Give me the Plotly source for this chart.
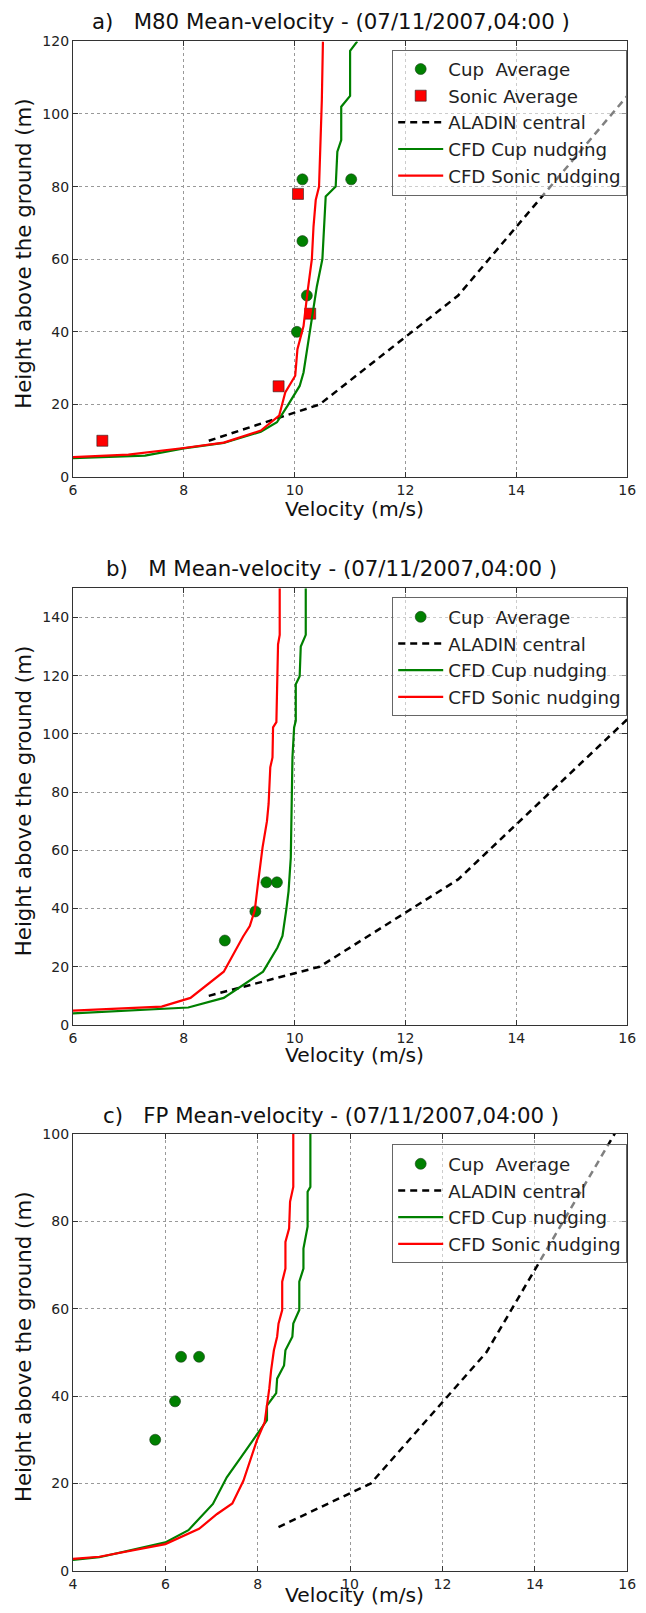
import plotly.graph_objects as go

# ---------------- data ----------------
aladin_x = [8.45, 10.0, 10.45, 12.95, 16.0, 17.0]
aladin_y = [10, 17.7, 20, 50, 105, 123]

# panel a (M80)
cup_a_x = [10.04, 10.22, 10.14, 10.14, 11.02]
cup_a_y = [40, 50, 65, 82, 82]
sonic_a_x = [6.53, 9.71, 10.28, 10.06]
sonic_a_y = [10, 25, 45, 78]
cfdcup_a_x = [6.0, 7.3, 8.0, 8.72, 9.39, 9.68, 9.87, 10.09, 10.16, 10.23, 10.31, 10.40,
              10.50, 10.56, 10.74, 10.77, 10.84, 10.84, 11.0, 11.0, 11.13]
cfdcup_a_y = [5.2, 5.9, 7.9, 9.4, 12.5, 15.1, 19.6, 25.1, 28.8, 36.1, 44.3, 52.5,
              60, 77.3, 80, 89.6, 92.8, 102, 105, 117.4, 120]
cfdson_a_x = [6.0, 7.0, 8.0, 8.72, 9.39, 9.72, 9.83, 10.01, 10.05, 10.16, 10.23, 10.31,
              10.34, 10.38, 10.44, 10.47, 10.49, 10.51]
cfdson_a_y = [5.5, 6.2, 8.0, 9.5, 12.8, 16.9, 23.3, 27.9, 35.2, 41.6, 50.7, 60,
              69, 76.3, 80, 92.8, 103.7, 120]

# panel b (M)
cup_b_x = [8.74, 9.29, 9.49, 9.68]
cup_b_y = [29, 39, 49, 49]
cfdcup_b_x = [6.0, 8.08, 8.72, 9.43, 9.69, 9.78, 9.85, 9.89, 9.93, 9.94, 9.94, 9.96,
              9.99, 10.02, 10.02, 10.09, 10.11, 10.20, 10.20]
cfdcup_b_y = [4.0, 6.0, 9.3, 18.3, 26.6, 30.6, 39.8, 46, 57.5, 70, 80, 91.9,
              102.2, 104.5, 117, 119.8, 130, 134, 150]
cfdson_b_x = [6.0, 7.6, 8.12, 8.72, 9.07, 9.19, 9.28, 9.31, 9.34, 9.42, 9.50, 9.53,
              9.56, 9.60, 9.61, 9.67, 9.69, 9.70, 9.73, 9.73]
cfdson_b_y = [4.9, 6.3, 9.3, 18.3, 30.4, 34, 39.4, 44.9, 48.9, 60.9, 70, 76,
              88.5, 91.9, 102.2, 104, 119.2, 130.7, 134, 150]

# panel c (FP)
cup_c_x = [5.78, 6.21, 6.34, 6.73]
cup_c_y = [30, 38.8, 49, 49]
cfdcup_c_x = [4.0, 4.57, 6.0, 6.5, 7.03, 7.33, 7.64, 7.99, 8.2, 8.2, 8.4, 8.42, 8.57,
              8.6, 8.75, 8.77, 8.9, 8.9, 8.99, 8.99, 9.08, 9.08, 9.14, 9.14]
cfdcup_c_y = [2.5, 3.1, 6.5, 9.3, 15.3, 21.4, 26, 31.2, 34.5, 37.8, 40.7, 44, 47,
              50.5, 53.6, 56.6, 59.7, 66.2, 69.2, 73.8, 78.8, 86.8, 87.9, 100]
cfdson_c_x = [4.0, 4.57, 6.0, 6.73, 7.12, 7.45, 7.69, 7.98, 8.15, 8.2, 8.25, 8.29,
              8.35, 8.42, 8.45, 8.53, 8.53, 8.6, 8.6, 8.68, 8.7, 8.77, 8.77]
cfdson_c_y = [2.7, 3.2, 6.1, 9.6, 13, 15.4, 20.6, 29.8, 34, 37.5, 41.7, 45.9,
              50.5, 53.6, 56.6, 59.7, 66.2, 69.2, 75.3, 78.4, 84.5, 87.9, 100]

titles = ["a)   M80 Mean-velocity - (07/11/2007,04:00 )",
          "b)   M Mean-velocity - (07/11/2007,04:00 )",
          "c)   FP Mean-velocity - (07/11/2007,04:00 )"]
xlabel = "Velocity (m/s)"
ylabel = "Height above the ground (m)"
x_ranges = [[6, 16], [6, 16], [4, 16]]
y_ranges = [[0, 120], [0, 150], [0, 100]]

# ---------------- layout geometry ----------------
W, H = 646, 1613

# the photographed page is slightly squeezed vertically; map target pixel -> figure pixel
def PY(t):
    return (t - 7.75) / 0.989

xl, xr = 70.4, 636
panels_px = [(PY(41.1), PY(476.3)), (PY(587.4), PY(1023.6)), (PY(1132.6), PY(1568.8))]
title_y = [PY(21.5), PY(568), PY(1114)]
xlab_y = [PY(508), PY(1054), 1603]
ylab_y = [PY(253.7), PY(800.5), PY(1345.7)]
legend_top = [PY(49.4), PY(596.6), PY(1143)]
legend_right = 636

GREEN = "#008000"
RED = "#ff0000"
FONT = "DejaVu Sans"

fig = go.Figure()

def add_panel(i, cup, sonic, cfdcup, cfdson):
    xa = "x" if i == 0 else f"x{i+1}"
    ya = "y" if i == 0 else f"y{i+1}"
    lg = "legend" if i == 0 else f"legend{i+1}"
    fig.add_trace(go.Scatter(x=cup[0], y=cup[1], mode="markers", name="Cup  Average",
                             marker=dict(symbol="circle", size=11, color=GREEN,
                                         line=dict(color="#1a3d1a", width=0.6)),
                             xaxis=xa, yaxis=ya, legend=lg))
    if sonic is not None:
        fig.add_trace(go.Scatter(x=sonic[0], y=sonic[1], mode="markers", name="Sonic Average",
                                 marker=dict(symbol="square", size=11, color=RED,
                                             line=dict(color="#222", width=0.6)),
                                 xaxis=xa, yaxis=ya, legend=lg))
    fig.add_trace(go.Scatter(x=aladin_x, y=aladin_y, mode="lines", name="ALADIN central",
                             line=dict(color="black", width=2.5, dash="7px,5px"),
                             xaxis=xa, yaxis=ya, legend=lg))
    fig.add_trace(go.Scatter(x=cfdcup[0], y=cfdcup[1], mode="lines", name="CFD Cup nudging",
                             line=dict(color=GREEN, width=2.2),
                             xaxis=xa, yaxis=ya, legend=lg))
    fig.add_trace(go.Scatter(x=cfdson[0], y=cfdson[1], mode="lines", name="CFD Sonic nudging",
                             line=dict(color=RED, width=2.2),
                             xaxis=xa, yaxis=ya, legend=lg))

add_panel(0, (cup_a_x, cup_a_y), (sonic_a_x, sonic_a_y), (cfdcup_a_x, cfdcup_a_y), (cfdson_a_x, cfdson_a_y))
add_panel(1, (cup_b_x, cup_b_y), None, (cfdcup_b_x, cfdcup_b_y), (cfdson_b_x, cfdson_b_y))
add_panel(2, (cup_c_x, cup_c_y), None, (cfdcup_c_x, cfdcup_c_y), (cfdson_c_x, cfdson_c_y))

layout = dict(width=W, height=H, margin=dict(l=0, r=0, t=0, b=0),
              paper_bgcolor="white", plot_bgcolor="white",
              font=dict(family=FONT, color="#222"), annotations=[])

for i in range(3):
    top, bot = panels_px[i]
    sfx = "" if i == 0 else str(i + 1)
    axis_common = dict(showline=True, linecolor="#333", linewidth=1.2, mirror="allticks",
                       ticks="inside", ticklen=5, tickcolor="#333",
                       showgrid=True, gridcolor="#999", griddash="dot", gridwidth=1,
                       zeroline=False, tickfont=dict(size=14, family=FONT, color="#222"))
    layout["xaxis" + sfx] = dict(axis_common, domain=[xl / W, xr / W], range=x_ranges[i],
                                 dtick=2, anchor="y" + sfx)
    layout["yaxis" + sfx] = dict(axis_common, domain=[1 - bot / H, 1 - top / H], range=y_ranges[i],
                                 dtick=20, anchor="x" + sfx)
    layout["legend" + sfx] = dict(x=legend_right / W, xanchor="right", y=1 - legend_top[i] / H,
                                  yanchor="top",
                                  bgcolor="rgba(255,255,255,0.5)", bordercolor="#666", borderwidth=1,
                                  itemwidth=45,
                                  font=dict(size=18.2, family=FONT, color="#222"))
    layout["annotations"] += [
        dict(text=titles[i], x=334 / W, y=1 - title_y[i] / H, xref="paper", yref="paper",
             showarrow=False, xanchor="center", yanchor="middle",
             font=dict(size=21.3, family=FONT, color="#111")),
        dict(text=xlabel, x=358 / W, y=1 - xlab_y[i] / H, xref="paper", yref="paper",
             showarrow=False, xanchor="center", yanchor="middle",
             font=dict(size=20.3, family=FONT, color="#111")),
        dict(text=ylabel, x=20 / W, y=1 - ylab_y[i] / H, xref="paper", yref="paper",
             showarrow=False, xanchor="center", yanchor="middle", textangle=-90,
             font=dict(size=21.3, family=FONT, color="#111")),
    ]

fig.update_layout(**layout)
fig.write_html("out.html", config={"displayModeBar": False},
               post_script="document.body.style.margin='0';document.body.style.overflow='hidden';")
